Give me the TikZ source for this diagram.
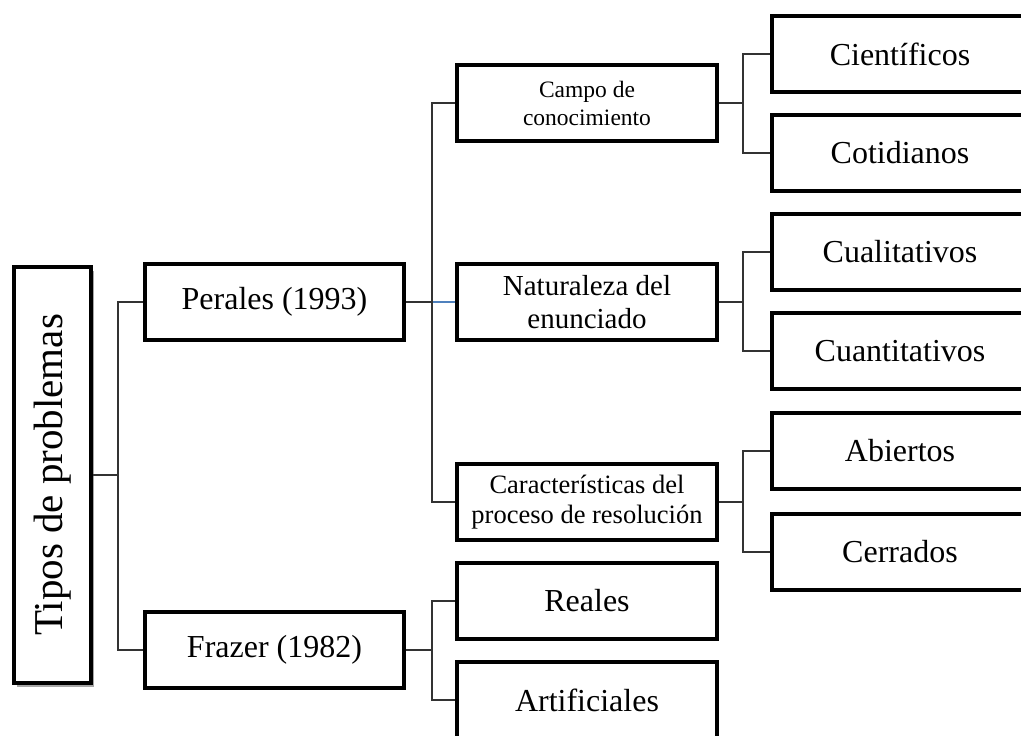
\documentclass[tikz,border=0pt]{standalone}
\usepackage{fontspec}
\setmainfont{Liberation Serif}
\usetikzlibrary{positioning,shadows}

\definecolor{linkblue}{RGB}{79,129,189}

\begin{document}
\begin{tikzpicture}[
  x=1pt, y=-1pt,
  every node/.style={font=\fontsize{32}{38}\selectfont},
  box/.style={draw, fill=white, line width=4pt, minimum width=260pt, minimum height=76pt, inner sep=0pt, align=center},
  rootbox/.style={box, minimum width=77pt, minimum height=416pt, drop shadow={shadow xshift=3pt, shadow yshift=-4pt, opacity=.35, fill=black}},
  leaf/.style={box, minimum width=256pt},
  link/.style={line width=1.3pt, draw=black!80},
  bluelink/.style={line width=1.8pt, draw=linkblue}
]
  \clip (0,0) rectangle (1021,736);

  \node[rootbox] (tipos) at (52.5,475) {\rotatebox{90}{\fontsize{41}{41}\selectfont Tipos de problemas}};

  \node[box, minimum width=259pt] (perales) at (274.5,302) {Perales (1993)};
  \node[box, minimum width=259pt] (frazer) at (274.5,650) {Frazer (1982)};

  \node[box, font=\fontsize{23.5}{28}\selectfont] (campo) at (587,103) {Campo de\\conocimiento};
  \node[box, font=\fontsize{29}{33}\selectfont] (naturaleza) at (587,302) {Naturaleza del\\enunciado};
  \node[box, font=\fontsize{26.5}{30}\selectfont] (caract) at (587,502) {Características del\\proceso de resolución};
  \node[box] (reales) at (587,601) {Reales};
  \node[box] (artif) at (587,700) {Artificiales};

  \node[leaf] (cient) at (900,54) {Científicos};
  \node[leaf] (cotid) at (900,153) {Cotidianos};
  \node[leaf] (cualit) at (900,252) {Cualitativos};
  \node[leaf] (cuantit) at (900,351) {Cuantitativos};
  \node[leaf] (abiert) at (900,451) {Abiertos};
  \node[leaf] (cerrad) at (900,552) {Cerrados};

  % tree branches
  \draw[link] (tipos.east) -- ++(25,0) |- (perales.west);
  \draw[link] (tipos.east) -- ++(25,0) |- (frazer.west);

  \draw[bluelink] (perales.east) -- (naturaleza.west);
  \draw[link] (perales.east) -- ++(26,0) |- (campo.west);
  \draw[link] (perales.east) -- ++(26,0) |- (caract.west);
  \draw[link] (frazer.east) -- ++(26,0) |- (reales.west);
  \draw[link] (frazer.east) -- ++(26,0) |- (artif.west);

  \draw[link] (campo.east) -- ++(24,0) |- (cient.west);
  \draw[link] (campo.east) -- ++(24,0) |- (cotid.west);
  \draw[link] (naturaleza.east) -- ++(24,0) |- (cualit.west);
  \draw[link] (naturaleza.east) -- ++(24,0) |- (cuantit.west);
  \draw[link] (caract.east) -- ++(24,0) |- (abiert.west);
  \draw[link] (caract.east) -- ++(24,0) |- (cerrad.west);
\end{tikzpicture}
\end{document}
